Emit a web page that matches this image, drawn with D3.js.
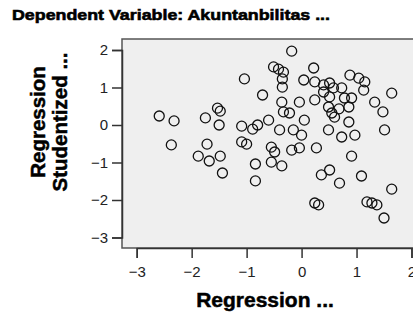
<!DOCTYPE html>
<html><head><meta charset="utf-8">
<script src="https://cdn.jsdelivr.net/npm/d3@7"></script>
<style>body{margin:0;background:#fff;overflow:hidden} svg{display:block}</style>
</head><body><svg id="c" width="413" height="321"></svg>
<script>
const xValues = [-2.59,-2.32,-2.37,-1.75,-1.53,-1.48,-1.50,-1.72,-1.88,-1.68,-1.48,-1.44,-1.09,-1.09,-1.00,-0.89,-0.80,-1.04,-0.71,-0.84,-0.84,
 -0.18,-0.51,-0.42,-0.33,-0.35,-0.35,0.04,0.22,0.24,0.40,0.51,0.58,0.40,0.51,0.73,0.78,0.91,0.88,1.04,1.15,1.13,1.64,1.33,1.48,1.51,
 -0.36,-0.04,0.24,0.49,0.55,0.60,0.86,0.86,0.73,0.97,0.49,-0.33,-0.22,0.05,-0.60,-0.40,-0.15,0.00,
 -0.55,-0.49,-0.55,-0.36,-0.18,-0.04,0.27,0.91,0.36,0.51,0.69,1.09,0.24,0.31,1.19,1.28,1.37,1.50,1.64,0.68];
const yValues = [0.24,0.11,-0.53,0.19,0.45,0.37,0.00,-0.51,-0.83,-0.96,-0.83,-1.28,-0.03,-0.45,-0.51,-0.11,0.00,1.23,0.80,-1.04,-1.49,
 1.97,1.55,1.49,1.41,1.23,1.01,1.20,1.52,1.15,1.07,1.12,0.99,0.88,0.75,0.99,0.72,0.72,1.33,1.25,1.15,0.93,0.85,0.61,0.35,-0.13,
 0.61,0.61,0.67,0.48,0.32,0.21,0.48,0.08,-0.32,-0.27,-0.13,0.35,0.32,0.13,0.13,-0.13,-0.13,-0.27,
 -0.59,-0.72,-0.99,-1.09,-0.67,-0.61,-0.61,-0.83,-1.33,-1.20,-1.55,-1.36,-2.08,-2.13,-2.05,-2.08,-2.13,-2.48,-1.71,0.43];
const xTicks = [-3,-2,-1,0,1,2];
const yTicks = [-3,-2,-1,0,1,2];
const titleText = "Dependent Variable: Akuntanbilitas ...";
const xLabel = "Regression ...";
const yLabelLines = ["Regression", "Studentized ..."];

const svg = d3.select("#c");
const plot = {left:122, top:39, right:440, bottom:248};
const x = d3.scaleLinear().domain([-3,2]).range([136.7,411.5]);
const y = d3.scaleLinear().domain([-3,2]).range([237.5,50]);

svg.append("rect").attr("x",plot.left).attr("y",plot.top)
  .attr("width",plot.right-plot.left).attr("height",plot.bottom-plot.top)
  .attr("fill","#efefef").attr("stroke","#555").attr("stroke-width",1.5);

const pts = xValues.map((v,i)=>({x:v,y:yValues[i]}));
svg.append("g").selectAll("circle").data(pts).join("circle")
  .attr("cx",d=>x(d.x)).attr("cy",d=>y(d.y)).attr("r",5)
  .attr("fill","none").attr("stroke","#111").attr("stroke-width",1.3);

const fontFam = "Arial, 'Liberation Sans', sans-serif";
const ga = svg.append("g").attr("transform",`translate(${plot.left},0)`)
  .call(d3.axisLeft(y).tickValues(yTicks).tickSize(10).tickPadding(4).tickFormat(d3.format("d")));
ga.select(".domain").attr("stroke","#333").attr("stroke-width",1.5);
ga.selectAll(".tick line").attr("stroke","#333").attr("stroke-width",1.5);
ga.selectAll("text").attr("font-size",15).attr("font-family",fontFam).attr("fill","#222");

const gb = svg.append("g").attr("transform",`translate(0,${plot.bottom})`)
  .call(d3.axisBottom(x).tickValues(xTicks).tickSize(10).tickPadding(8).tickFormat(d3.format("d")));
gb.select(".domain").attr("stroke","#333").attr("stroke-width",1.5);
gb.selectAll(".tick line").attr("stroke","#333").attr("stroke-width",1.5);
gb.selectAll("text").attr("font-size",15).attr("font-family",fontFam).attr("fill","#222");

svg.append("text").attr("x",12).attr("y",20).text(titleText)
  .attr("font-family",fontFam).attr("font-weight","bold").attr("font-size",15.5)
  .attr("stroke","#000").attr("stroke-width",0.6)
  .attr("textLength",318).attr("lengthAdjust","spacingAndGlyphs");

svg.append("text").attr("x",265).attr("y",307).attr("text-anchor","middle").text(xLabel)
  .attr("font-family",fontFam).attr("font-weight","bold").attr("font-size",21)
  .attr("stroke","#000").attr("stroke-width",0.5);

const cy = 122;
yLabelLines.forEach((t,i)=>{
  svg.append("text").attr("transform",`translate(${45+i*22},${cy}) rotate(-90)`)
    .attr("text-anchor","middle").text(t)
    .attr("font-family",fontFam).attr("font-weight","bold").attr("font-size",20.5)
    .attr("stroke","#000").attr("stroke-width",0.5);
});
</script></body></html>
